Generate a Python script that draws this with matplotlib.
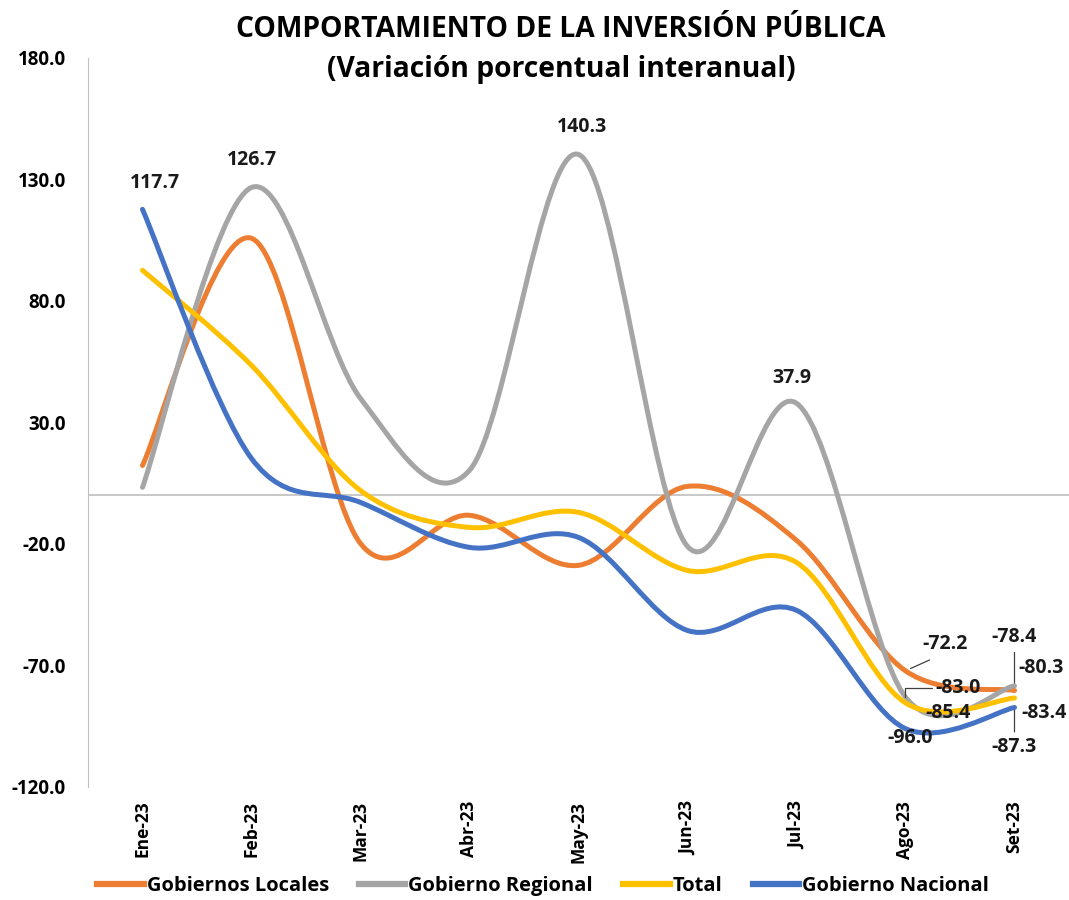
import numpy as np
import matplotlib
matplotlib.use("Agg")
import matplotlib.pyplot as plt
from matplotlib.path import Path
from matplotlib.patches import PathPatch
from matplotlib.lines import Line2D

plt.rcParams['font.family'] = ['Open Sans', 'DejaVu Sans']
plt.rcParams['font.weight'] = 'bold'

months = ["Ene-23", "Feb-23", "Mar-23", "Abr-23", "May-23",
          "Jun-23", "Jul-23", "Ago-23", "Set-23"]
locales = [12.3, 105.8, -19.8, -8.2, -28.8, 3.7, -18.5, -72.2, -80.3]
regional = [3.3, 126.7, 39.9, 10.3, 140.3, -21.0, 37.9, -83.0, -78.4]
total = [92.6, 53.5, 2.0, -13.2, -7.0, -30.9, -27.6, -85.4, -83.4]
nacional = [117.7, 15.2, -2.9, -21.4, -17.3, -55.6, -47.3, -96.0, -87.3]

series = [
    ("Gobiernos Locales", locales, "#ED7D31"),
    ("Gobierno Regional", regional, "#A5A5A5"),
    ("Total", total, "#FFC000"),
    ("Gobierno Nacional", nacional, "#4472C4"),
]


def smooth_path(x, y):
    # excel-like smoothed line: cubic bezier segments through every point
    p = np.column_stack([x, y]).astype(float)
    ext = np.vstack([p[0], p, p[-1]])
    verts = [p[0]]
    codes = [Path.MOVETO]
    for i in range(len(p) - 1):
        c1 = ext[i + 1] + (ext[i + 2] - ext[i]) / 6.0
        c2 = ext[i + 2] - (ext[i + 3] - ext[i + 1]) / 6.0
        verts += [c1, c2, p[i + 1]]
        codes += [Path.CURVE4] * 3
    return Path(verts, codes)


fig = plt.figure(figsize=(10.69, 9), dpi=100)
ax = fig.add_axes([0.0823, 0.1256, 0.9177, 0.81])

x = np.arange(len(months))
for name, vals, color in series:
    patch = PathPatch(smooth_path(x, vals), facecolor="none", edgecolor=color,
                      lw=3.6, capstyle="round", joinstyle="round")
    ax.add_patch(patch)

ax.set_xlim(-0.5, len(months) - 0.5)
ax.set_ylim(-120, 180)
yt = np.arange(-120, 181, 50)
ax.set_yticks(yt)
ax.set_yticklabels([f"{v:.1f}" for v in yt], fontsize=13.5)
ax.set_xticks(x)
ax.set_xticklabels(months, rotation=90, fontsize=12.5)
ax.tick_params(axis="both", length=0)
ax.tick_params(axis="y", pad=16)
ax.tick_params(axis="x", pad=10)
for s in ["top", "right", "bottom"]:
    ax.spines[s].set_visible(False)
ax.spines["left"].set_color("#BFBFBF")
ax.axhline(0, color="#BFBFBF", lw=1.2, zorder=0)

# data labels: (series values, index, offset in pixels, leader settings)
labels = [
    (nacional, 0, (12, 26), None),
    (regional, 1, (0, 27), None),
    (regional, 4, (4, 27), None),
    (regional, 6, (-5, 25), None),
    (locales, 7, (40, 27), dict(relpos=(0.45, 0.0), shrinkA=6, shrinkB=4)),
    (regional, 7, (53, 9), dict(relpos=(0.0, 0.5), shrinkA=1, shrinkB=0,
                                connectionstyle="angle,angleA=0,angleB=90,rad=0")),
    (total, 7, (43, -10), None),
    (nacional, 7, (5, -9), None),
    (regional, 8, (0, 49), dict(relpos=(0.5, 0.0), shrinkB=2)),
    (locales, 8, (27, 22), None),
    (total, 8, (30, -15), None),
    (nacional, 8, (0, -40), dict(relpos=(0.5, 1.0), shrinkB=2)),
]
for vals, i, off, leader in labels:
    kw = {}
    if leader:
        props = dict(arrowstyle="-", color="#404040", lw=0.9, shrinkA=2)
        props.update(leader)
        kw["arrowprops"] = props
    ax.annotate(f"{vals[i]:.1f}", xy=(i, vals[i]), xytext=off,
                textcoords="offset pixels", ha="center", va="center",
                fontsize=14, fontweight="bold", color="#1a1a1a", **kw)

fig.text(0.525, 0.967, "COMPORTAMIENTO DE LA INVERSIÓN PÚBLICA",
         ha="center", va="center", fontsize=20.3, fontweight="bold")
fig.text(0.525, 0.923, "(Variación porcentual interanual)",
         ha="center", va="center", fontsize=20.3, fontweight="bold")

handles = [Line2D([0], [0], color=c, lw=4.5) for _, _, c in series]
fig.legend(handles, [n for n, _, _ in series], loc="center",
           bbox_to_anchor=(0.508, 0.016), ncol=4, frameon=False,
           handlelength=2.3, handletextpad=0.15, columnspacing=1.5,
           prop={"weight": "bold", "size": 14.5})

fig.savefig("out.png", dpi=100)
